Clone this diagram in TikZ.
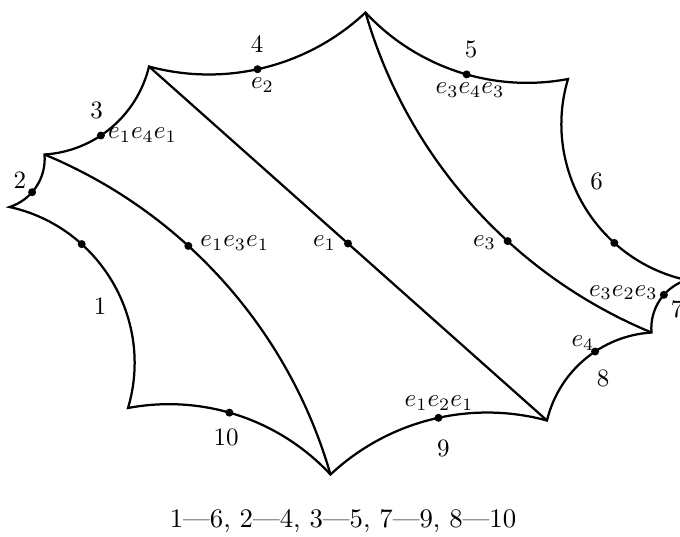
\documentclass[tikz,border=0pt]{standalone}
\begin{document}
\begin{tikzpicture}[x=0.4pt,y=0.4pt,
  edge/.style={line width=0.9pt, line join=miter},
  dot/.style={circle, fill=black, inner sep=0pt, minimum size=3.2pt},
  lbl/.style={inner sep=0pt}]
\useasboundingbox (0,0) rectangle (680,-536);
% polygon vertices
\coordinate (A) at (9.5,-207);
\coordinate (B) at (44.5,-154.5);
\coordinate (C) at (149,-66.5);
\coordinate (D) at (365.5,-12.5);
\coordinate (E) at (568,-79);
\coordinate (F) at (686.5,-280);
\coordinate (G) at (651.5,-332.5);
\coordinate (H) at (547,-420.5);
\coordinate (I) at (330.5,-474.5);
\coordinate (J) at (128,-408);
% outer boundary
\draw[edge]
  (A) to[bend right=38.6, looseness=0.956] node[dot, pos=0.40] (d2) {} (B)
      to[bend right=36.5, looseness=0.944] node[dot, pos=0.41] (d3) {} (C)
      to[bend right=29.2, looseness=0.91]  node[dot, pos=0.47] (d4) {} (D)
      to[bend right=28.9, looseness=0.91]  node[dot, pos=0.54] (d5) {} (E)
      to[bend right=47.2, looseness=1.01]  node[dot, pos=0.69] (d6) {} (F)
      to[bend right=38.6, looseness=0.956] node[dot, pos=0.40] (d7) {} (G)
      to[bend right=36.5, looseness=0.944] node[dot, pos=0.41] (d8) {} (H)
      to[bend right=29.2, looseness=0.91]  node[dot, pos=0.47] (d9) {} (I)
      to[bend right=28.9, looseness=0.91]  node[dot, pos=0.54] (d10) {} (J)
      to[bend right=47.2, looseness=1.01]  node[dot, pos=0.69] (d1) {} cycle;
% inner geodesics
\draw[edge] (B) to[bend left=25.7, looseness=0.896] node[dot, pos=0.385] (m1) {} (I);
\draw[edge] (C) -- node[dot, pos=0.5] (m2) {} (H);
\draw[edge] (D) to[bend right=25.7, looseness=0.896] node[dot, pos=0.615] (m3) {} (G);
% side numbers
\node[lbl] (n1) at (100,-306.5) {1};
\node[lbl] (n2) at (20,-180.5) {2};
\node[lbl] (n3) at (96.5,-110.5) {3};
\node[lbl] (n4) at (257,-44) {4};
\node[lbl] (n5) at (471,-49.5) {5};
\node[lbl] (n6) at (596.7,-181.5) {6};
\node[lbl] (n7) at (677,-309) {7};
\node[lbl] (n8) at (603,-378) {8};
\node[lbl] (n9) at (443.3,-448) {9};
\node[lbl] (n10) at (226,-437.7) {10};
% words
\node[lbl] (w4) at (262.5,-85) {$e_2$};
\node[lbl] (w3) at (142.5,-135) {$e_1e_4e_1$};
\node[lbl] (w11) at (234.7,-243) {$e_1e_3e_1$};
\node[lbl] (w12) at (324.5,-243) {$e_1$};
\node[lbl] (w13) at (484.5,-242.5) {$e_3$};
\node[lbl] (w5) at (470,-90) {$e_3e_4e_3$};
\node[lbl] (w7) at (623.3,-292.5) {$e_3e_2e_3$};
\node[lbl] (w8) at (583,-343) {$e_4$};
\node[lbl] (w9) at (439,-403) {$e_1e_2e_1$};
% caption
\node[lbl, font=\fontsize{10.7pt}{13pt}\selectfont] (cap) at (343,-521.5) {1---6, 2---4, 3---5, 7---9, 8---10};
\end{tikzpicture}
\end{document}
